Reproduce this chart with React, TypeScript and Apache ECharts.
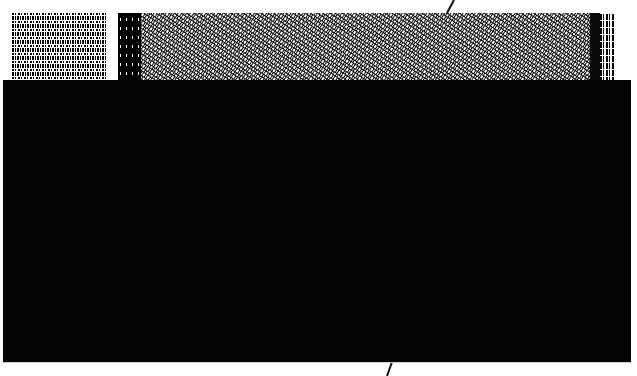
import React, { useEffect, useRef } from "react";
import * as echarts from "echarts";

// Top band: horizontal segments (widths in axis units) across the strip
const bandSegments = ["stripesL", "gap", "darkL", "noise", "darkR", "stripesR"];
const bandWidths = [95, 11, 23, 449, 10, 15];

// Main block: one category, one value filling the plot
const blockCategories = ["A"];
const blockValues = [100];

export default function App() {
  const ref = useRef<HTMLDivElement>(null);
  useEffect(() => {
    if (!ref.current) return;
    const chart = echarts.init(ref.current, undefined, { renderer: "svg" });
    const styles: any[] = [
      {
        color: "#ffffff",
        decal: { symbol: "rect", color: "#000", symbolSize: 1, dashArrayX: [[1, 1, 2, 1], [2, 1, 1, 2]], dashArrayY: [4, 1, 2, 1], rotation: 0 },
      },
      { color: "#ffffff" },
      {
        color: "#000000",
        decal: { symbol: "rect", color: "#ffffff", symbolSize: 1, dashArrayX: [1, 5], dashArrayY: [3, 6], rotation: 0 },
      },
      {
        color: "#0a0a0a",
        decal: { symbol: "rect", color: "#ffffff", symbolSize: 1, dashArrayX: [[2, 1, 1, 1], [1, 1, 2, 1]], dashArrayY: [3, 1, 2, 1], rotation: 0.6 },
      },
      { color: "#0a0a0a" },
      {
        color: "#ffffff",
        decal: { symbol: "rect", color: "#000", symbolSize: 1, dashArrayX: [2, 1, 1, 2], dashArrayY: [6, 1], rotation: 0 },
      },
    ];
    const bandSeries = bandSegments.map((name, i) => ({
      name,
      type: "bar",
      stack: "band",
      xAxisIndex: 0,
      yAxisIndex: 0,
      barWidth: "100%",
      data: [bandWidths[i]],
      itemStyle: styles[i],
      silent: true,
    }));
    chart.setOption({
      animation: false,
      backgroundColor: "#ffffff",
      grid: [
        { left: 12, top: 13, width: 603, height: 67 },
        { left: 3, top: 80, width: 628, height: 282 },
      ],
      xAxis: [
        { type: "value", gridIndex: 0, min: 0, max: 603, show: false },
        {
          type: "category",
          gridIndex: 1,
          data: blockCategories,
          axisLine: { show: true, lineStyle: { color: "#cfcfcf", width: 1 } },
          axisTick: { show: false },
          axisLabel: { show: false },
        },
      ],
      yAxis: [
        { type: "category", gridIndex: 0, data: ["band"], show: false },
        { type: "value", gridIndex: 1, min: 0, max: 100, show: false, splitLine: { show: false } },
      ],
      series: [
        ...bandSeries,
        {
          type: "bar",
          xAxisIndex: 1,
          yAxisIndex: 1,
          barWidth: "100%",
          data: blockValues,
          itemStyle: { color: "#050505" },
          silent: true,
        },
      ],
      graphic: [
        { type: "line", shape: { x1: 454, y1: 0, x2: 447, y2: 13 }, style: { stroke: "#111", lineWidth: 2 } },
        { type: "line", shape: { x1: 392, y1: 362, x2: 387, y2: 376 }, style: { stroke: "#111", lineWidth: 2 } },
      ],
    });
    return () => chart.dispose();
  }, []);
  return (
    <div
      ref={ref}
      style={{ position: "fixed", left: 0, top: 0, width: 637, height: 376 }}
    />
  );
}
